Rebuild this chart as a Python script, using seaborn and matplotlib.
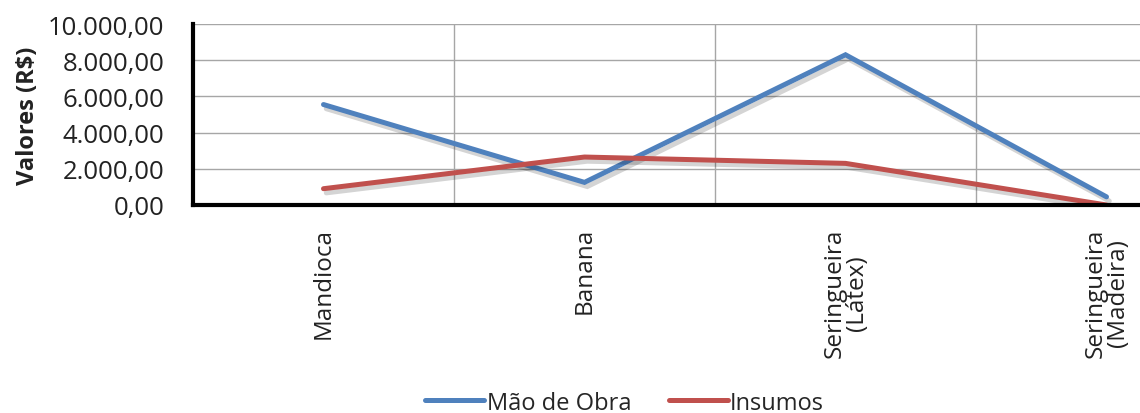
import matplotlib
matplotlib.use("Agg")
import matplotlib.pyplot as plt
import matplotlib.patheffects as pe
from matplotlib.ticker import FuncFormatter, FixedLocator
import pandas as pd
import seaborn as sns

categorias = ["Mandioca", "Banana", "Seringueira\n(Látex)", "Seringueira\n(Madeira)"]
mao_de_obra = [5550, 1250, 8300, 450]
insumos = [900, 2650, 2300, 0]
series = ["Mão de Obra", "Insumos"]
cores = ["#4F81BD", "#C0504D"]

df = pd.DataFrame({
    "categoria": categorias * 2,
    "valor": mao_de_obra + insumos,
    "serie": [series[0]] * len(categorias) + [series[1]] * len(categorias),
})

sns.set_theme(style="white")
plt.rcParams["font.family"] = ["Open Sans", "DejaVu Sans"]

fig = plt.figure(figsize=(11.4, 4.14), dpi=100)
ax = fig.add_axes([193 / 1140, (414 - 206) / 414, (1237 - 193) / 1140, 181 / 414])

sns.lineplot(data=df, x="categoria", y="valor", hue="serie", palette=dict(zip(series, cores)),
             linewidth=3.6, ax=ax, legend=False, sort=False)

for ln in ax.get_lines():
    ln.set_solid_capstyle("round")
    ln.set_solid_joinstyle("miter")
    ln.set_path_effects([pe.SimpleLineShadow(offset=(2, -3), shadow_color="black", alpha=0.17),
                         pe.Normal()])

ax.set_xlim(-0.5, len(categorias) - 0.5)
ax.set_ylim(0, 10000)
ax.set_yticks(range(0, 10001, 2000))

def fmt_br(v, pos):
    s = f"{v:,.2f}"
    return s.replace(",", "X").replace(".", ",").replace("X", ".")

ax.yaxis.set_major_formatter(FuncFormatter(fmt_br))

# category labels at centres, ticks and vertical grid at boundaries
ax.set_xticks(range(len(categorias)))
ax.set_xticklabels(categorias, rotation=90, va="top", ha="center", fontsize=17.5, color="#222222",
                   linespacing=0.9)
ax.xaxis.set_minor_locator(FixedLocator([i + 0.5 for i in range(len(categorias) - 1)]))
ax.tick_params(axis="x", which="major", length=0, pad=16)
ax.tick_params(axis="x", which="minor", direction="inout", length=13, width=2.5, color="black")
ax.tick_params(axis="y", direction="inout", length=13, width=2.5, color="black",
               labelsize=18.5, labelcolor="#222222", pad=14)

ax.grid(axis="y", which="major", color="#A6A6A6", linewidth=1)
ax.grid(axis="x", which="minor", color="#A6A6A6", linewidth=1)
ax.grid(axis="x", which="major", visible=False)
ax.set_axisbelow(True)

for side in ["top", "right"]:
    ax.spines[side].set_visible(False)
for side in ["left", "bottom"]:
    ax.spines[side].set_linewidth(3)
    ax.spines[side].set_color("black")
    ax.spines[side].set_zorder(5)

ax.set_xlabel("")
ax.set_ylabel("Valores (R$)", fontsize=17, fontweight="bold", color="#222222", labelpad=6)

handles = [plt.Line2D([], [], color=c, linewidth=3.6, solid_capstyle="round") for c in cores]
fig.legend(handles, series, loc="center", bbox_to_anchor=(0.548, 0.025), ncol=2, frameon=False,
           fontsize=17, handlelength=2.5, handletextpad=0.1, columnspacing=1.6)

fig.savefig("out.png", dpi=100)
